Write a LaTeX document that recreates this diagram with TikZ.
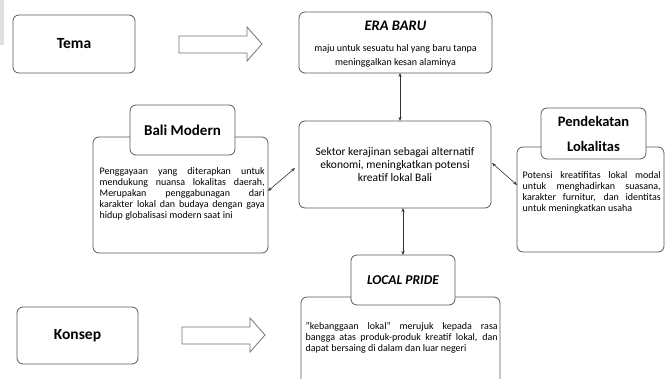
\documentclass[tikz,border=0pt]{standalone}
\usepackage{fontspec}
\setmainfont{Carlito}
\usetikzlibrary{arrows.meta}
\tikzset{
  box/.style={draw=black!65, line width=0.8pt, rounded corners=6pt, fill=white, inner sep=0pt},
  blockarrow/.style={draw=black!55, line width=0.8pt, fill=white},
  link/.style={draw=black!80, line width=0.6pt, {Stealth[length=4pt,width=3.2pt]}-{Stealth[length=4pt,width=3.2pt]}},
  titletxt/.style={font=\bfseries\fontsize{15.5}{18}\selectfont, inner sep=0pt},
  bodytxt/.style={font=\fontsize{10}{11.2}\selectfont, inner sep=0pt, align=justify, anchor=north west},
}
\begin{document}
\begin{tikzpicture}[x=1pt,y=-1pt]
\useasboundingbox (0,0) rectangle (669,378);
\fill[black!12] (0,0) rectangle (4,45);
% Tema
\node[box, minimum width=122pt, minimum height=58pt, titletxt] (tema) at (74,44) {Tema};
\draw[blockarrow] (179,36) -- (247,36) -- (247,27) -- (262,44) -- (247,61) -- (247,53) -- (179,53) -- cycle;
% Konsep
\node[box, minimum width=121pt, minimum height=57pt, titletxt] (konsep) at (77.5,335.5) {Konsep};
\draw[blockarrow] (182,327) -- (250,327) -- (250,318) -- (265,335) -- (250,352) -- (250,344) -- (182,344) -- cycle;
% ERA BARU
\node[box, minimum width=193pt, minimum height=61pt] (era) at (395.5,42.5) {};
\node[inner sep=0pt, font=\bfseries\itshape\fontsize{14.5}{17}\selectfont] (eratitle) at (395.5,26) {ERA BARU};
\node[inner sep=0pt, align=center, font=\fontsize{10}{14}\selectfont] (eratext) at (395.5,56) {maju untuk sesuatu hal yang baru tanpa\\meninggalkan kesan alaminya};
% Sektor
\node[box, minimum width=192pt, minimum height=87pt, align=center, font=\fontsize{11.5}{13}\selectfont] (sektor) at (395,164.5) {Sektor kerajinan sebagai alternatif\\ekonomi, meningkatkan potensi\\kreatif lokal Bali};
% Bali Modern
\node[box, minimum width=175pt, minimum height=116pt] (bali) at (180.5,195) {};
\node[box, minimum width=105pt, minimum height=50pt, font=\bfseries\fontsize{15}{18}\selectfont] (balititle) at (182.5,130) {Bali Modern};
\node[bodytxt, text width=165pt] (balitext) at (99.5,167) {Penggayaan yang diterapkan untuk\linebreak mendukung nuansa lokalitas daerah,\linebreak Merupakan penggabunagan dari\linebreak karakter lokal dan budaya dengan gaya\linebreak hidup globalisasi modern saat ini};
% Pendekatan Lokalitas
\node[box, minimum width=147pt, minimum height=105pt] (pend) at (590.5,199.5) {};
\node[box, minimum width=105pt, minimum height=51pt, align=center, font=\bfseries\fontsize{14.5}{25}\selectfont] (pendtitle) at (593.5,133.5) {Pendekatan\\Lokalitas};
\node[bodytxt, text width=138pt] (pendtext) at (522.5,171) {Potensi kreatifitas lokal modal\linebreak untuk menghadirkan suasana,\linebreak karakter furnitur, dan identitas\linebreak untuk meningkatkan usaha};
% Local Pride
\node[box, minimum width=199pt, minimum height=100pt] (lp) at (400.5,347) {};
\node[box, minimum width=104pt, minimum height=50pt, font=\bfseries\itshape\fontsize{13.5}{16}\selectfont] (lptitle) at (403,280) {LOCAL PRIDE};
\node[bodytxt, text width=192pt] (lptext) at (305.5,322) {"kebanggaan lokal" merujuk kepada rasa\linebreak bangga atas produk-produk kreatif lokal, dan\linebreak dapat bersaing di dalam dan luar negeri};
% connectors
\coordinate (a1) at (400,73);
\coordinate (a2) at (400,121);
\draw[link] (a1) -- (a2);
\coordinate (b1) at (403,208);
\coordinate (b2) at (403,255);
\draw[link] (b1) -- (b2);
\coordinate (c1) at (268,191);
\coordinate (c2) at (295,168);
\draw[link] (c1) -- (c2);
\coordinate (d1) at (492,163);
\coordinate (d2) at (517,185);
\draw[link] (d1) -- (d2);
\end{tikzpicture}
\end{document}
